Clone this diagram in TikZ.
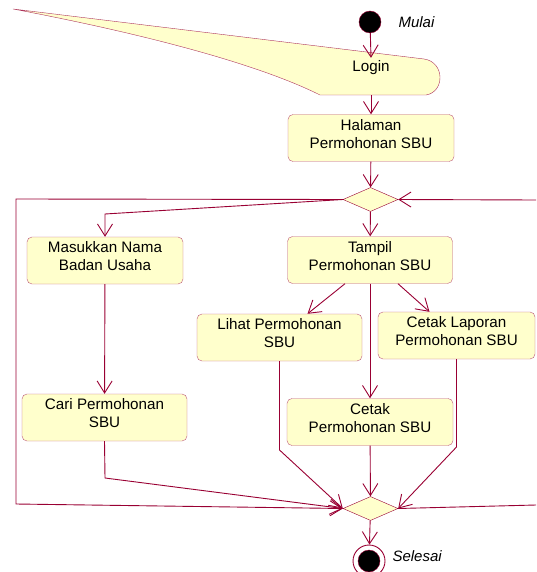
\documentclass[tikz,border=0pt]{standalone}
\usepackage{fontspec}
\setmainfont{Liberation Sans}
\usetikzlibrary{arrows.meta}
\usetikzlibrary{positioning,shapes.geometric}
\definecolor{roseline}{RGB}{153,0,51}
\definecolor{rosefill}{RGB}{255,255,204}

\begin{document}
\begin{tikzpicture}[x=1pt,y=-1pt,
	act/.style={rectangle, rounded corners=5pt, draw=roseline!65, fill=rosefill, minimum width=166pt, minimum height=47pt, inner sep=0pt, text depth=9pt, align=center, font=\fontsize{15.2}{18}\selectfont},
	dec/.style={diamond, draw=roseline, fill=rosefill, minimum width=55pt, minimum height=24pt, inner sep=0pt},
	flow/.style={draw=roseline, line width=0.9pt, -{Straight Barb[length=12pt,width=15pt]}},
	note/.style={anchor=west, font=\fontsize{15}{18}\selectfont\itshape}]
		\useasboundingbox (0,0) rectangle (536,572);
		
		% start and the login sign
		\node[circle, fill=black, draw=roseline, minimum size=22pt, inner sep=0pt] (start) at (370,22) {};
		\node[note] at (395,22) {Mulai};
		
		\fill[rosefill] (13,9) -- (424,59) .. controls (445,62) and (445,92) .. (426,95) -- (320,95) .. controls (260,65) and (150,35) .. (13,9);
		\draw[roseline!80] (13,9) -- (424,59) .. controls (445,62) and (445,92) .. (426,95) -- (320,95) .. controls (260,65) and (150,35) .. (13,9);
		\node[minimum width=110pt, minimum height=37pt, inner sep=0pt] (login) at (371,76.5) {};
		\node[font=\fontsize{15.2}{18}\selectfont] (logintext) at (371,68) {Login};
		
		\node[act] (halaman) at (371,138) {Halaman\\Permohonan SBU};
		\node[dec] (cek) at (370.5,199.5) {};
		
		\node[act, minimum width=156pt] (masuk) at (105,260.5) {Masukkan Nama\\Badan Usaha};
		\node[act, minimum width=165pt] (tampil) at (370,260) {Tampil\\Permohonan SBU};
		\node[act, minimum width=165pt] (lihat) at (279.5,337.5) {Lihat Permohonan\\SBU};
		\node[act, minimum width=157pt] (laporan) at (456.5,335.5) {Cetak Laporan\\Permohonan SBU};
		\node[act] (cetak) at (370,422) {Cetak\\Permohonan SBU};
		\node[act, minimum width=165pt] (cari) at (104.5,417.5) {Cari Permohonan\\SBU};
		
		\node[dec] (gabung) at (370.5,508.5) {};
		\node[circle, draw=roseline, line width=0.9pt, minimum size=32pt, inner sep=0pt] (selesai) at (369,561) {};
		\node[circle, fill=black, draw=roseline, minimum size=22pt, inner sep=0pt] (selesaiisi) at (selesai) {};
		\node[note] at (389,556) {Selesai};
		
		% corners of the two loops
		\coordinate (kiriatas) at (16,199);
		\coordinate (kiribawah) at (16,504);
		\coordinate (kananatas) at (536,200);
		\coordinate (kananbawah) at (536,505);
		
		\draw[flow] (start) -- (login.north);
		\draw[flow] (login.south) -- (halaman);
		\draw[flow] (halaman) -- (cek);
		\draw[flow] (cek) -- (tampil);
		\draw[flow] (cek.west) -- (105,214) -- (masuk.north);
		\draw[flow] (cek.west) -- (kiriatas) -- (kiribawah) -- (gabung.west);
		\draw[flow] (kananatas) -- (cek.east);
		\draw[flow] ([xshift=-25pt]tampil.south) -- ([xshift=28pt]lihat.north);
		\draw[flow] ([xshift=28pt]tampil.south) -- ([xshift=-27pt]laporan.north);
		\draw[flow] (tampil.south -| cetak.north) -- (cetak.north);
		\draw[flow] (masuk) -- (cari);
		\draw[flow] (cari.south) -- (105,478) -- (gabung.west);
		\draw[flow] (lihat.south) -- (279.5,450) -- (gabung.west);
		\draw[flow] (cetak) -- (gabung);
		\draw[flow] (laporan.south) -- (456.5,447) -- (gabung.east);
		\draw[draw=roseline, line width=0.9pt] (gabung.east) -- (kananbawah);
		\draw[flow] (gabung) -- (selesai);
	\end{tikzpicture}
\end{document}
